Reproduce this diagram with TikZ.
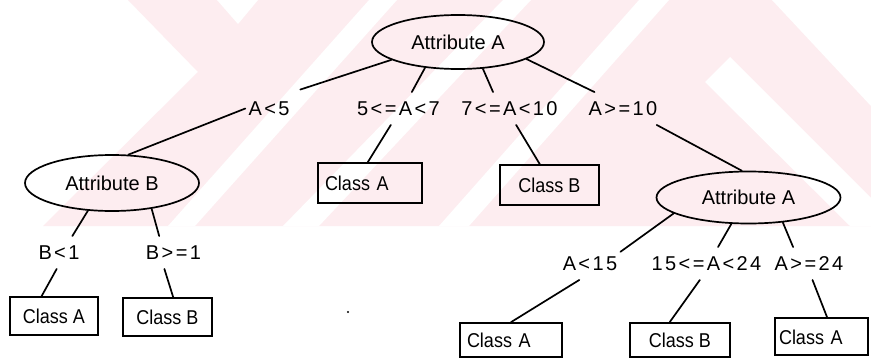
\documentclass[tikz,border=0pt]{standalone}
\usepackage{fontspec}
\setmainfont{Liberation Sans}
\newfontfamily\condfont[LetterSpace=12]{Liberation Sans}
\newfontfamily\classfont[FakeStretch=0.9]{Liberation Sans}
\usetikzlibrary{shapes.geometric}
\definecolor{markpink}{RGB}{253,237,240}

\begin{document}
\begin{tikzpicture}[x=1pt, y=-1pt,
  attr/.style={ellipse, draw, line width=1.7pt, inner sep=0pt,
    font=\fontsize{20}{24}\selectfont},
  cond/.style={inner xsep=3pt, inner ysep=9pt, text height=14.5pt, text depth=0pt,
    font=\condfont\fontsize{20}{24}\selectfont},
  leaf/.style={draw, line width=1.7pt, inner ysep=0pt, inner xsep=0pt,
    text height=15pt, text depth=0pt, font=\classfont\fontsize{20}{24}\selectfont},
  leafl/.style={leaf, align=left},
  link/.style={line width=1.7pt, line cap=round},
  stripe/.style={fill=white, draw=none}]

\useasboundingbox (0,0) rectangle (871,359);
\fill[white] (0,0) rectangle (871,359);

% light background band with diagonal gaps
\fill[markpink] (128,0) -- (871,0) -- (871,226) -- (43,226) -- (198,72) -- cycle;
\fill[stripe] (217,0) -- (258,0) -- (238,24) -- cycle;
\fill[stripe] (369,0) -- (397,0) -- (195,226) -- (168,226) -- cycle;
\fill[stripe] (503,0) -- (531,0) -- (319,226) -- (283,226) -- cycle;
\fill[stripe] (639,0) -- (669,0) -- (469,226) -- (439,226) -- cycle;
\fill[stripe] (772,0) -- (871,0) -- (871,106) -- cycle;
\fill[stripe] (705,82) -- (730,57) -- (871,198) -- (871,226) -- (850,226) -- cycle;

% decision nodes
\node[attr, minimum width=172pt, minimum height=54pt] (E1) at (458,42) {Attribute A};
\node[attr, minimum width=174pt, minimum height=56pt] (E2) at (112,183) {Attribute B};
\node[attr, minimum width=184pt, minimum height=52pt] (E3) at (748.5,197.5) {Attribute A};

% branch conditions
\node[cond] (lA5)   at (269,108.5)   {A<5};
\node[cond] (l57)   at (398.5,108.5) {5<=A<7};
\node[cond] (l710)  at (509.5,108.5) {7<=A<10};
\node[cond] (l10)   at (623,108.5)   {A>=10};
\node[cond] (lB1)   at (59,252.5)    {B<1};
\node[cond] (lB2)   at (173.5,252.5) {B>=1};
\node[cond] (lA15)  at (590,263.5)   {A<15};
\node[cond] (l1524) at (706.5,263.5) {15<=A<24};
\node[cond] (l24)   at (809,263.5)   {A>=24};

% leaves
\node[leafl, text width=90pt, inner xsep=7pt, minimum height=40pt] (cAm) at (370,183) {Class A};
\node[leaf, minimum width=99pt, minimum height=40pt] (cBm) at (549.5,185) {Class B};
\node[leaf, minimum width=88pt, minimum height=38pt] (cAl) at (54,316) {Class A};
\node[leaf, minimum width=89pt, minimum height=38pt] (cBl) at (167.5,317) {Class B};
\node[leafl, text width=88pt, inner xsep=7pt, minimum height=34pt] (cAb) at (511,340) {Class A};
\node[leaf, minimum width=100pt, minimum height=34pt] (cBb) at (680,340) {Class B};
\node[leafl, text width=85pt, inner xsep=4pt, minimum height=37pt] (cAr) at (821.5,336.5) {Class A};

% branches
\draw[link, shorten >=8pt] (E1.195) -- (lA5.north east);
\draw[link] (lA5.west) -- (E2.60);
\draw[link] (E1.218) -- (l57.51);
\draw[link] (l57.245) -- (cAm.96);
\draw[link] (E1.313) -- (l710.135);
\draw[link] (l710.292) -- (cBm.115);
\draw[link] (E1.346) -- (l10.150);
\draw[link] (l10.334) -- (E3.104);
\draw[link] (E2.229) -- (lB1.51);
\draw[link] (lB1.262) -- (cAl.122);
\draw[link] (E2.327) -- (lB2.131);
\draw[link] (lB2.241) -- (cBl.74);
\draw[link] (E3.192) -- (lA15.21);
\draw[link] (lA15.237) -- (cAb.north);
\draw[link] (E3.237) -- (l1524.55);
\draw[link] (l1524.248) -- (cBb.120);
\draw[link] (E3.324) -- (l24.134);
\draw[link] (l24.282) -- (cAr.74);

% stray speck
\fill (348,312) circle (1.2pt);
\end{tikzpicture}
\end{document}
